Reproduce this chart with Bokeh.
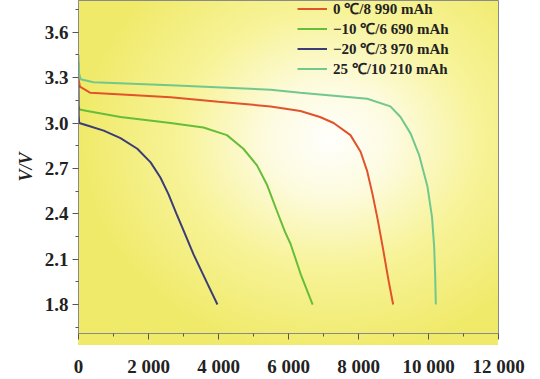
from bokeh.plotting import figure
from bokeh.models import FixedTicker, Legend, LegendItem
from bokeh.embed import file_html
from bokeh.resources import INLINE

# ---- data (capacity mAh, voltage V) ----
cap_0c = [0, 10, 40, 340, 1500, 2630, 4000, 5490, 6340, 6900, 7290, 7770, 8060, 8250, 8400, 8550, 8700, 8850, 8990]
v_0c = [3.40, 3.28, 3.24, 3.20, 3.185, 3.17, 3.14, 3.11, 3.08, 3.04, 3.00, 2.92, 2.81, 2.68, 2.53, 2.36, 2.17, 1.97, 1.80]

cap_m10c = [0, 30, 250, 1200, 2630, 3570, 4240, 4710, 5100, 5390, 5650, 5900, 6060, 6350, 6690]
v_m10c = [3.11, 3.09, 3.08, 3.04, 3.00, 2.97, 2.92, 2.83, 2.72, 2.59, 2.43, 2.28, 2.20, 2.00, 1.80]

cap_m20c = [0, 5, 20, 300, 720, 1200, 1680, 2060, 2340, 2570, 2800, 3000, 3290, 3680, 3970]
v_m20c = [3.25, 3.05, 3.00, 2.98, 2.95, 2.90, 2.83, 2.74, 2.64, 2.53, 2.40, 2.29, 2.13, 1.94, 1.80]

cap_25c = [0, 15, 60, 430, 2630, 5490, 6340, 8250, 8910, 9200, 9490, 9730, 9970, 10100, 10160, 10190, 10210]
v_25c = [3.45, 3.33, 3.29, 3.27, 3.25, 3.22, 3.20, 3.16, 3.11, 3.04, 2.93, 2.79, 2.58, 2.38, 2.19, 2.00, 1.80]

series_labels = ["0 \u2103/8 990 mAh", "\u221210 \u2103/6 690 mAh", "\u221220 \u2103/3 970 mAh", "25 \u2103/10 210 mAh"]

x_ticks = [0, 2000, 4000, 6000, 8000, 10000, 12000]
x_tick_labels = ["0", "2 000", "4 000", "6 000", "8 000", "10 000", "12 000"]
x_minor = [1000, 3000, 5000, 7000, 9000, 11000]
y_ticks = [1.8, 2.1, 2.4, 2.7, 3.0, 3.3, 3.6]
y_tick_labels = ["1.8", "2.1", "2.4", "2.7", "3.0", "3.3", "3.6"]
y_minor = [1.65, 1.95, 2.25, 2.55, 2.85, 3.15, 3.45, 3.75]

colors = ["#e2522c", "#66bd3a", "#3b3d78", "#72c78e"]

SERIF = "Liberation Serif"

p = figure(width=540, height=379, output_backend="svg", toolbar_location=None,
           x_range=(0, 12000), y_range=(1.6086, 3.81),
           min_border_left=78, min_border_right=42, min_border_top=0, min_border_bottom=34)

p.background_fill_color = None
p.border_fill_color = None
p.outline_line_color = "#8a8a8a"
p.outline_line_width = 1
p.styles = {
    "background-image": "radial-gradient(ellipse 250px 215px at 252px 140px, #fffffd 0%, #fdfbde 26%, #f7f398 60%, #f0ea6a 100%)",
    "background-size": "420px 345px",
    "background-position": "78px 0px",
    "background-repeat": "no-repeat",
    "background-color": "white",
}
p.grid.visible = False

renderers = []
for xs, ys, c in zip([cap_0c, cap_m10c, cap_m20c, cap_25c],
                     [v_0c, v_m10c, v_m20c, v_25c], colors):
    renderers.append(p.line(xs, ys, line_color=c, line_width=2))

# axes
p.xaxis.ticker = FixedTicker(ticks=x_ticks, minor_ticks=x_minor)
p.xaxis.major_label_overrides = dict(zip(x_ticks, x_tick_labels))
p.yaxis.ticker = FixedTicker(ticks=y_ticks, minor_ticks=y_minor)
p.yaxis.major_label_overrides = dict(zip(y_ticks, y_tick_labels))

for ax in (p.xaxis, p.yaxis):
    ax.axis_line_color = "#8a8a8a"
    ax.major_tick_line_color = "#555555"
    ax.minor_tick_line_color = "#555555"
    ax.major_tick_in = 0
    ax.major_tick_out = 6
    ax.minor_tick_in = 0
    ax.minor_tick_out = 3
    ax.major_label_text_font = SERIF
    ax.major_label_text_font_style = "bold"
    ax.major_label_text_font_size = "19px"
    ax.major_label_text_color = "#222222"

p.xaxis.major_label_standoff = 16
p.yaxis.major_label_standoff = 4

p.yaxis.axis_label = "V/V"
p.yaxis.axis_label_text_font = SERIF
p.yaxis.axis_label_text_font_style = "bold italic"
p.yaxis.axis_label_text_font_size = "18px"
p.yaxis.axis_label_text_color = "#222222"
p.yaxis.axis_label_standoff = 6

legend = Legend(items=[LegendItem(label=lab, renderers=[r]) for lab, r in zip(series_labels, renderers)],
                location=(219, 255))
legend.background_fill_alpha = 0
legend.border_line_alpha = 0
legend.padding = 0
legend.margin = 0
legend.spacing = 0
legend.label_height = 19
legend.glyph_height = 19
legend.glyph_width = 30
legend.label_standoff = 6
legend.label_text_font = SERIF
legend.label_text_font_style = "bold"
legend.label_text_font_size = "15px"
legend.label_text_line_height = 0.85
legend.label_text_color = "#222222"
p.add_layout(legend, "center")

open("out.html", "w").write(file_html(p, INLINE))
